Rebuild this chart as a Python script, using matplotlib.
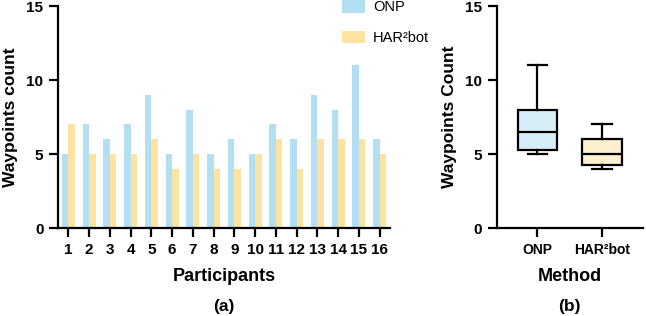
import numpy as np
import matplotlib
matplotlib.use("Agg")
import matplotlib.pyplot as plt

plt.rcParams["font.family"] = ["Liberation Sans", "DejaVu Sans"]

participants = list(range(1, 17))
onp = [5, 7, 6, 7, 9, 5, 8, 5, 6, 5, 7, 6, 9, 8, 11, 6]
har = [7, 5, 5, 5, 6, 4, 5, 4, 4, 5, 6, 4, 6, 6, 6, 5]
methods = ["ONP", "HAR²bot"]

bar_blue = "#b3dff2"
bar_yellow = "#fde3a1"
box_blue = "#d7edf8"
box_yellow = "#fdf0cf"


def style_axis(ax):
    for s in ["top", "right"]:
        ax.spines[s].set_visible(False)
    for s in ["left", "bottom"]:
        ax.spines[s].set_linewidth(1.6)
    ax.tick_params(width=1.6, length=6.5, pad=4, labelsize=11)
    for lab in ax.get_xticklabels() + ax.get_yticklabels():
        lab.set_fontweight("bold")


def box_stats(values, label):
    # Prism-style quartiles, whiskers at min/max
    v = np.asarray(values, dtype=float)
    q1, med, q3 = np.percentile(v, [25, 50, 75], method="weibull")
    return dict(label=label, med=med, q1=q1, q3=q3,
                whislo=v.min(), whishi=v.max(), fliers=[])


fig = plt.figure(figsize=(6.46, 3.16), dpi=100)
ax1 = fig.add_axes([0.0898, 0.278, 0.514, 0.703])
ax2 = fig.add_axes([0.769, 0.278, 0.226, 0.703])

# (a) grouped bars
x = np.array(participants)
w = 0.31
ax1.bar(x - w / 2, onp, w, color=bar_blue, label=methods[0])
ax1.bar(x + w / 2, har, w, color=bar_yellow, label=methods[1])
ax1.set_xlim(0.5, 16.5)
ax1.set_ylim(0, 15)
ax1.set_yticks([0, 5, 10, 15])
ax1.set_xticks(x)
ax1.set_xticklabels([str(p) for p in participants])
ax1.set_xlabel("Participants", fontsize=13, fontweight="bold", labelpad=8)
ax1.set_ylabel("Waypoints count", fontsize=12.5, fontweight="bold", labelpad=6)
style_axis(ax1)
ax1.text(0.5, -0.32, "(a)", transform=ax1.transAxes, ha="center", va="top",
         fontsize=12.5, fontweight="bold")

fig.legend(loc="upper left", bbox_to_anchor=(342 / 646, 1.0), frameon=False,
           borderpad=0, borderaxespad=0, handlelength=1.58, handleheight=0.96,
           handletextpad=0.55, labelspacing=1.12, fontsize=10.5)

# (b) box plot
stats = [box_stats(onp, methods[0]), box_stats(har, methods[1])]
bp = ax2.bxp(stats, positions=[1, 2], widths=0.615, patch_artist=True,
             showfliers=False,
             boxprops=dict(linewidth=1.6),
             whiskerprops=dict(linewidth=1.6),
             capprops=dict(linewidth=1.6),
             medianprops=dict(color="black", linewidth=1.6))
for patch, c in zip(bp["boxes"], [box_blue, box_yellow]):
    patch.set_facecolor(c)
ax2.set_xlim(0.37, 2.63)
ax2.set_ylim(0, 15)
ax2.set_yticks([0, 5, 10, 15])
ax2.set_xlabel("Method", fontsize=13, fontweight="bold", labelpad=8)
ax2.set_ylabel("Waypoints Count", fontsize=12.5, fontweight="bold", labelpad=6)
style_axis(ax2)
ax2.tick_params(axis="x", labelsize=10)
ax2.text(0.5, -0.32, "(b)", transform=ax2.transAxes, ha="center", va="top",
         fontsize=12.5, fontweight="bold")

fig.savefig("out.png", dpi=100)
